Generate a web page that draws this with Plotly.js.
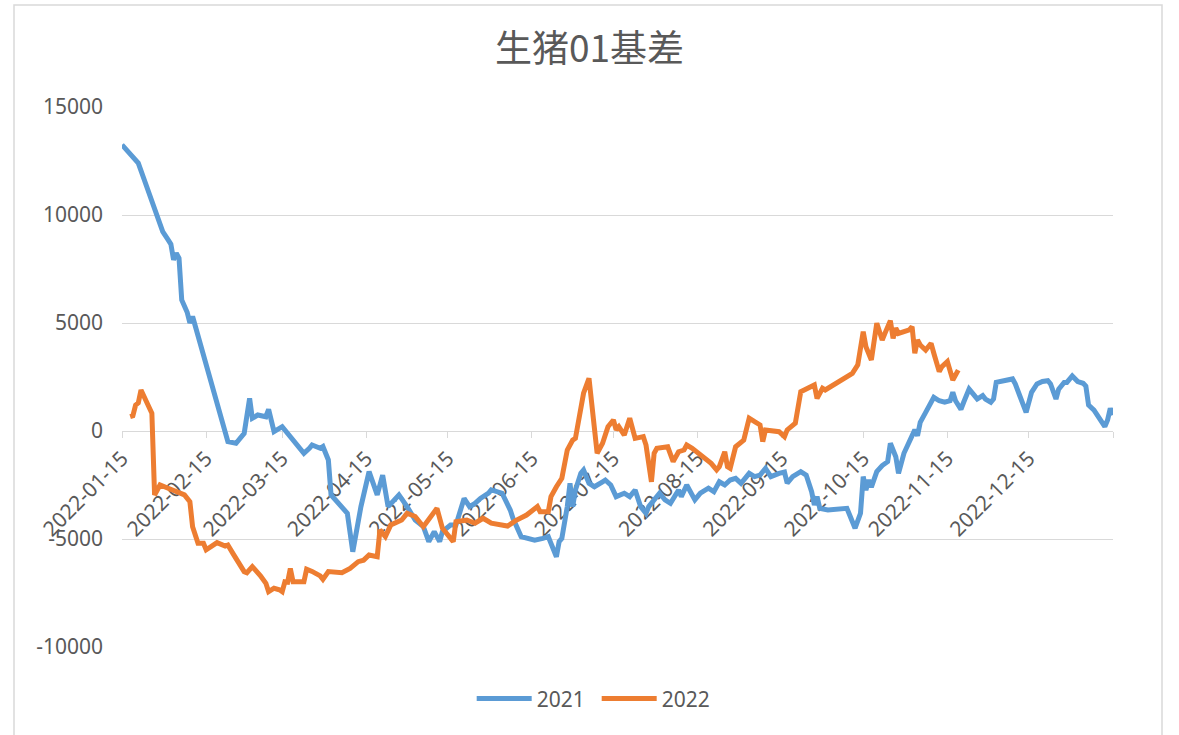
<!DOCTYPE html>
<html>
<head>
<meta charset="utf-8">
<script src="https://cdn.plot.ly/plotly-3.0.1.min.js"></script>
<style>
  html, body { margin: 0; padding: 0; background: #ffffff; }
  #chart { width: 1179px; height: 735px; }
</style>
</head>
<body>
<div id="chart"></div>
<script>
// ---- data ----
const titleText = "生猪01基差";
const seriesNames = ["2021", "2022"];

const dates2021 = [
  "2022-01-15","2022-01-17","2022-01-19","2022-01-21","2022-01-23","2022-01-26","2022-01-27","2022-01-28","2022-01-30",
  "2022-02-01","2022-02-02","2022-02-03","2022-02-04","2022-02-05","2022-02-06","2022-02-08","2022-02-09","2022-02-10",
  "2022-02-23","2022-02-26","2022-03-01","2022-03-03","2022-03-04","2022-03-06","2022-03-09","2022-03-10","2022-03-12",
  "2022-03-15","2022-03-19","2022-03-23","2022-03-25","2022-03-26","2022-03-29","2022-03-30","2022-04-01","2022-04-02",
  "2022-04-08","2022-04-10","2022-04-13","2022-04-16","2022-04-19","2022-04-21","2022-04-23","2022-04-27","2022-04-30",
  "2022-05-03","2022-05-06","2022-05-08","2022-05-10","2022-05-12","2022-05-13","2022-05-16","2022-05-18","2022-05-21",
  "2022-05-23","2022-05-25","2022-05-27","2022-05-30","2022-05-31","2022-06-04","2022-06-07","2022-06-08","2022-06-11",
  "2022-06-16","2022-06-19","2022-06-21","2022-06-22","2022-06-24","2022-06-25","2022-06-26","2022-06-28","2022-06-29",
  "2022-06-30","2022-07-01","2022-07-03","2022-07-04","2022-07-06","2022-07-08","2022-07-11","2022-07-12","2022-07-14",
  "2022-07-16","2022-07-19","2022-07-21","2022-07-23","2022-07-25","2022-07-27","2022-07-28","2022-08-01","2022-08-03",
  "2022-08-05","2022-08-07","2022-08-08","2022-08-09","2022-08-11","2022-08-14","2022-08-16","2022-08-19","2022-08-21",
  "2022-08-23","2022-08-25","2022-08-27","2022-08-29","2022-08-31","2022-09-03","2022-09-05","2022-09-07","2022-09-09",
  "2022-09-11","2022-09-14","2022-09-16","2022-09-17","2022-09-19","2022-09-22","2022-09-24","2022-09-26","2022-09-27",
  "2022-09-28","2022-09-29","2022-10-02","2022-10-09","2022-10-12","2022-10-14","2022-10-15","2022-10-16","2022-10-17",
  "2022-10-18","2022-10-20","2022-10-22","2022-10-24","2022-10-25","2022-10-27","2022-10-28","2022-10-30","2022-11-01",
  "2022-11-03","2022-11-04","2022-11-05","2022-11-07","2022-11-10","2022-11-12","2022-11-14","2022-11-16","2022-11-17",
  "2022-11-18","2022-11-20","2022-11-21","2022-11-23","2022-11-25","2022-11-26","2022-11-28","2022-11-29","2022-12-01",
  "2022-12-02","2022-12-03","2022-12-06","2022-12-09","2022-12-10","2022-12-12","2022-12-14","2022-12-16","2022-12-17",
  "2022-12-18","2022-12-20","2022-12-22","2022-12-23","2022-12-25","2022-12-26","2022-12-28","2022-12-29","2022-12-31",
  "2023-01-02","2023-01-04","2023-01-05","2023-01-06","2023-01-08","2023-01-10","2023-01-12","2023-01-13","2023-01-14",
  "2023-01-15"
];
const values2021 = [
  13250,12950,12700,12400,11700,10600,10300,9800,9230,
  8850,8650,7920,8230,8000,6070,5500,5000,5300,
  -490,-570,-110,1510,590,740,660,1000,-30,
  200,-420,-1030,-800,-650,-800,-720,-1340,-2960,
  -3810,-5590,-3500,-1880,-2960,-2040,-3500,-2960,-3500,
  -4120,-4430,-5120,-4660,-5120,-4660,-4350,-4350,-3120,
  -3500,-3350,-3120,-2880,-2730,-2880,-3660,-4040,-4890,
  -5050,-4970,-4890,-5200,-5820,-5120,-4970,-3500,-2420,
  -3500,-2730,-1960,-1810,-2420,-2580,-2350,-2270,-2500,
  -3040,-2880,-3040,-2730,-3500,-3810,-3500,-2880,-3190,
  -3350,-2960,-2730,-3040,-2500,-3190,-2880,-2650,-2810,
  -2350,-2500,-2270,-2190,-2420,-1960,-2110,-2040,-1730,
  -2110,-1960,-1900,-2420,-2110,-1880,-2040,-2810,-3430,
  -3040,-3580,-3660,-3580,-4500,-3810,-2110,-2730,-2270,
  -2600,-1880,-1600,-1420,-570,-1190,-1960,-1030,-420,
  50,-220,400,860,1560,1400,1330,1400,1790,
  1400,1000,1330,1940,1640,1480,1640,1480,1330,
  1480,2250,2330,2410,2180,1480,860,1790,1940,
  2180,2290,2330,2180,1480,1940,2250,2250,2550,
  2290,2210,2080,1200,970,590,200,510,1050,
  740
];

const dates2022 = [
  "2022-01-18","2022-01-19","2022-01-20","2022-01-21","2022-01-22","2022-01-26","2022-01-27","2022-01-29","2022-02-01",
  "2022-02-07","2022-02-09","2022-02-10","2022-02-12","2022-02-14","2022-02-15","2022-02-19","2022-02-22","2022-02-23",
  "2022-02-25","2022-02-27","2022-03-01","2022-03-02","2022-03-04","2022-03-07","2022-03-09","2022-03-10","2022-03-12",
  "2022-03-14","2022-03-15","2022-03-16","2022-03-17","2022-03-18","2022-03-19","2022-03-23","2022-03-24","2022-03-26",
  "2022-03-29","2022-03-30","2022-04-01","2022-04-06","2022-04-09","2022-04-12","2022-04-14","2022-04-16","2022-04-19",
  "2022-04-20","2022-04-22","2022-04-24","2022-04-28","2022-04-30","2022-05-03","2022-05-06","2022-05-11","2022-05-13",
  "2022-05-17","2022-05-18","2022-05-22","2022-05-25","2022-05-28","2022-05-31","2022-06-06","2022-06-09","2022-06-13",
  "2022-06-17","2022-06-18","2022-06-21","2022-06-22","2022-06-24","2022-06-26","2022-06-28","2022-06-30","2022-07-01",
  "2022-07-04","2022-07-06","2022-07-07","2022-07-09","2022-07-11","2022-07-13","2022-07-15","2022-07-16","2022-07-17",
  "2022-07-19","2022-07-21","2022-07-23","2022-07-26","2022-07-27","2022-07-29","2022-07-30","2022-07-31","2022-08-04",
  "2022-08-06","2022-08-08","2022-08-10","2022-08-11","2022-08-13","2022-08-16","2022-08-18","2022-08-20","2022-08-22",
  "2022-08-23","2022-08-25","2022-08-26","2022-08-27","2022-08-29","2022-09-01","2022-09-03","2022-09-05","2022-09-07",
  "2022-09-08","2022-09-09","2022-09-14","2022-09-16","2022-09-17","2022-09-20","2022-09-22","2022-09-27","2022-09-28",
  "2022-09-30","2022-10-01","2022-10-11","2022-10-13","2022-10-15","2022-10-16","2022-10-18","2022-10-20","2022-10-22",
  "2022-10-23","2022-10-25","2022-10-26","2022-10-27","2022-10-28","2022-11-01","2022-11-02","2022-11-03","2022-11-04",
  "2022-11-05","2022-11-07","2022-11-09","2022-11-10","2022-11-12","2022-11-13","2022-11-15","2022-11-17","2022-11-19"
];
const values2022 = [
  660,700,1200,1300,1900,820,-2960,-2500,-2650,
  -2960,-3270,-4430,-5200,-5200,-5500,-5170,-5330,-5280,
  -5700,-6130,-6510,-6560,-6280,-6700,-7050,-7440,-7280,
  -7350,-7440,-6980,-7000,-6360,-6980,-6980,-6400,-6500,
  -6710,-6870,-6510,-6560,-6360,-6050,-5980,-5740,-5820,
  -4580,-4890,-4350,-4120,-3810,-3960,-4430,-3580,-4500,
  -5120,-4200,-4120,-4270,-4040,-4270,-4400,-4150,-3890,
  -3500,-3740,-3740,-3040,-2580,-2190,-880,-420,-340,
  1750,2440,1430,-1030,-570,200,510,50,200,
  -190,590,-340,-260,-650,-2350,-1030,-800,-730,
  -1420,-960,-880,-650,-800,-1110,-1340,-1500,-1800,
  -1650,-960,-1650,-1730,-730,-420,590,430,280,
  -490,50,-30,-260,50,360,1820,2130,1510,
  1980,1900,2670,3060,4600,3900,3290,4990,4210,
  4520,5110,4290,4760,4520,4680,4830,3600,4210,
  3980,3750,4060,3600,2750,2980,3210,2360,2820
];

const xTickDates = [
  "2022-01-15","2022-02-15","2022-03-15","2022-04-15","2022-05-15","2022-06-15",
  "2022-07-15","2022-08-15","2022-09-15","2022-10-15","2022-11-15","2022-12-15","2023-01-15"
];
const xTickLabels = [
  "2022-01-15","2022-02-15","2022-03-15","2022-04-15","2022-05-15","2022-06-15",
  "2022-07-15","2022-08-15","2022-09-15","2022-10-15","2022-11-15","2022-12-15",""
];
const yTickVals = [-10000, -5000, 0, 5000, 10000, 15000];
const yTickText = ["-10000", "-5000", "0", "5000", "10000", "15000"];
const yRange = [-10000, 15000];
const xRange = ["2022-01-15", "2023-01-15"];

// ---- chart ----
const textColor = "#595959";
const gridColor = "#d9d9d9";
const numFont = "Noto Sans, Open Sans, sans-serif";

const traces = [
  {
    type: "scatter", mode: "lines", name: seriesNames[0],
    x: dates2021, y: values2021,
    line: { color: "#5B9BD5", width: 5, shape: "linear" },
    hoverinfo: "skip"
  },
  {
    type: "scatter", mode: "lines", name: seriesNames[1],
    x: dates2022, y: values2022,
    line: { color: "#ED7D31", width: 5, shape: "linear" },
    hoverinfo: "skip"
  }
];

const zeroFrac = (0 - yRange[0]) / (yRange[1] - yRange[0]);

const layout = {
  width: 1179, height: 735,
  margin: { l: 122, r: 66, t: 107, b: 88 },
  paper_bgcolor: "#ffffff", plot_bgcolor: "#ffffff",
  title: {
    text: titleText,
    font: { family: "Noto Sans CJK SC, sans-serif", size: 37, color: textColor },
    x: 0.5, xref: "container", xanchor: "center",
    y: 1 - 49 / 735, yref: "container", yanchor: "middle"
  },
  showlegend: true,
  legend: {
    orientation: "h", x: 0.479, xanchor: "center", y: -0.096, yanchor: "middle",
    font: { family: numFont, size: 21, color: textColor },
    itemwidth: 55, entrywidth: 55, entrywidthmode: "pixels",
    tracegroupgap: 0, bgcolor: "rgba(0,0,0,0)"
  },
  xaxis: {
    type: "date", range: xRange,
    anchor: "free", position: zeroFrac,
    tickmode: "array", tickvals: xTickDates, ticktext: xTickLabels,
    tickangle: -45,
    ticks: "outside", ticklen: 6, tickcolor: gridColor, tickwidth: 1,
    showline: true, linecolor: gridColor, linewidth: 1,
    showgrid: false, zeroline: false,
    tickfont: { family: numFont, size: 21, color: textColor },
    layer: "below traces", fixedrange: true
  },
  yaxis: {
    range: yRange, tickmode: "array", tickvals: yTickVals, ticktext: yTickText,
    showgrid: true, gridcolor: gridColor, gridwidth: 1,
    zeroline: false, showline: false, ticks: "",
    ticklabelstandoff: 18,
    tickfont: { family: numFont, size: 21, color: textColor },
    layer: "below traces", fixedrange: true
  },
  shapes: [
    {
      type: "rect", xref: "paper", yref: "paper",
      x0: (14 - 122) / 991, x1: (1162 - 122) / 991,
      y0: (647 - 745) / 540, y1: (647 - 5) / 540,
      line: { color: gridColor, width: 1.5 }, fillcolor: "rgba(0,0,0,0)", layer: "below"
    }
  ]
};

Plotly.newPlot("chart", traces, layout, { staticPlot: true, displayModeBar: false });
</script>
</body>
</html>
